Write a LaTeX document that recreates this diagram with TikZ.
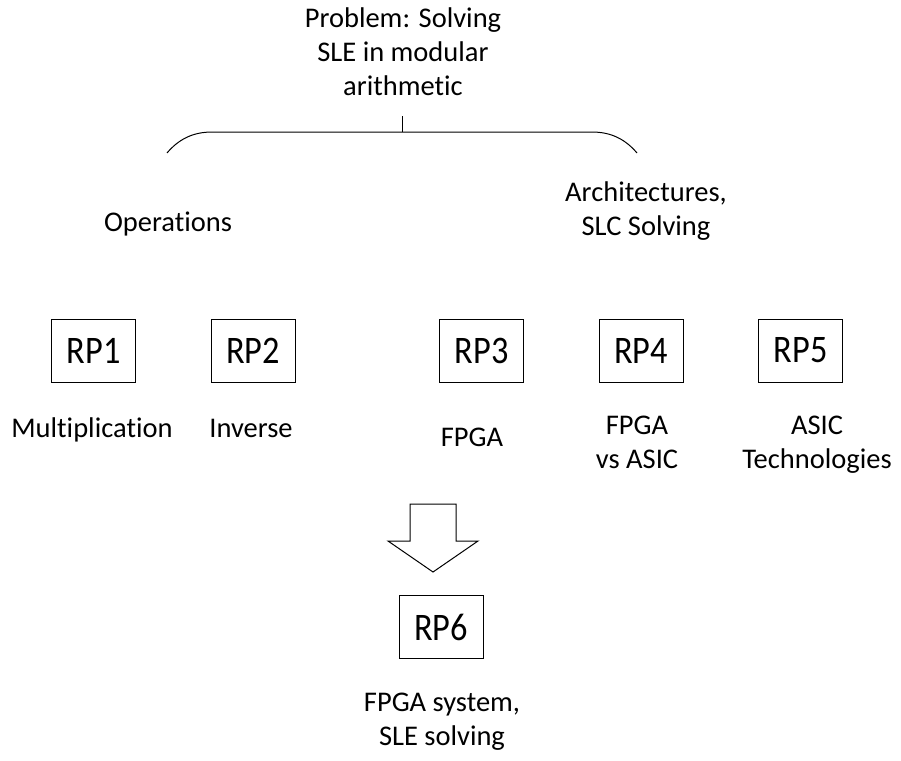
\documentclass[tikz,border=0pt]{standalone}
\usepackage{fontspec}
\setmainfont{Carlito}[Ligatures=NoCommon]
\newfontfamily\rpfont{Carlito}[FakeStretch=0.88]
\begin{document}
\begin{tikzpicture}[x=1pt,y=-1pt,
  lbl/.style={font=\fontsize{28.5}{34}\selectfont, align=center, inner sep=0pt,
              execute at begin node=\strut, execute at end node=\strut},
  rpbox/.style={draw, line width=1pt, minimum width=84pt, minimum height=63pt,
                font=\rpfont\fontsize{39}{42}\selectfont, inner sep=0pt},
  thinline/.style={line width=1pt}]
\useasboundingbox (0,0) rectangle (901,760);

% title and brace
\node[lbl] (title) at (403,57) {Problem: Solving\\SLE in modular\\arithmetic};
\coordinate (tickTop) at (402,116);
\coordinate (tickBot) at (402,132);
\coordinate (braceL) at (167,153);
\coordinate (braceR) at (637,153);
\draw[thinline] (tickTop) -- (tickBot);
\draw[thinline] (braceL) .. controls (178,140) and (192,132) .. (212,132)
  -- (592,132) .. controls (612,132) and (626,140) .. (braceR);

% group labels
\node[lbl] (ops) at (168,225) {Operations};
\node[lbl] (arch) at (646,214) {Architectures,\\SLC Solving};

% RP boxes
\node[rpbox] (rp1) at (93.5,350.5) {RP1};
\node[rpbox] (rp2) at (253,350.5) {RP2};
\node[rpbox] (rp3) at (481.5,350.5) {RP3};
\node[rpbox] (rp4) at (641,350.5) {RP4};
\node[rpbox] (rp5) at (800.5,350.5) {RP5};
\node[rpbox] (rp6) at (441,627) {RP6};

% labels under boxes
\node[lbl] (l1) at (92,431) {Multiplication};
\node[lbl] (l2) at (251,431) {Inverse};
\node[lbl] (l3) at (472,440) {FPGA};
\node[lbl] (l4) at (637,447) {FPGA\\vs ASIC};
\node[lbl] (l5) at (817,447) {ASIC\\Technologies};
\node[lbl] (l6) at (442,724) {FPGA system,\\SLE solving};

% block arrow
\draw[thinline, line join=miter]
  (410,504) -- (456,504) -- (456,541) -- (478,541) -- (433,572)
  -- (388,541) -- (410,541) -- cycle;
\end{tikzpicture}
\end{document}
